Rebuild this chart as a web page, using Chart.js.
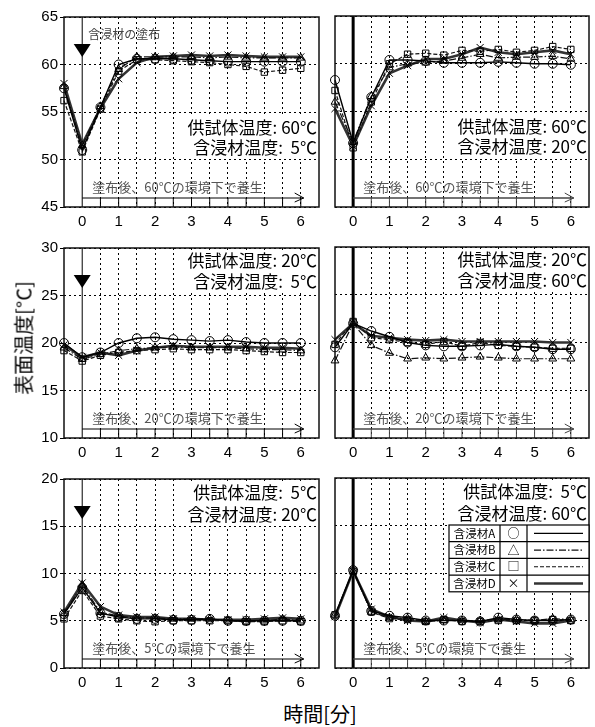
<!DOCTYPE html>
<html>
<head>
<meta charset="utf-8">
<script src="https://cdn.jsdelivr.net/npm/chart.js@4.4.0/dist/chart.umd.min.js"></script>
<style>
body { margin:0; background:#fff; width:595px; height:727px; position:relative; overflow:hidden; }
canvas { position:absolute; }
.ttl { position:absolute; font-family:"Noto Sans CJK JP", sans-serif; font-size:20px; color:#000; white-space:nowrap; }
</style>
</head>
<body>
<canvas id="c1"></canvas><canvas id="c2"></canvas>
<canvas id="c3"></canvas><canvas id="c4"></canvas>
<canvas id="c5"></canvas><canvas id="c6"></canvas>
<div class="ttl" style="left:23px;top:338px;transform:translate(-50%,-50%) rotate(-90deg);">表面温度[°C]</div>
<div class="ttl" style="left:320px;top:713px;transform:translate(-50%,-50%);">時間[分]</div>
<script>
// 時間[分]
const minutes = [-0.5, 0, 0.5, 1, 1.5, 2, 2.5, 3, 3.5, 4, 4.5, 5, 5.5, 6];
const xGrid = [-0.5, 0, 0.5, 1, 1.5, 2, 2.5, 3, 3.5, 4, 4.5, 5, 5.5, 6, 6.5];
const yTicksTop = [45, 50, 55, 60, 65];
const yTicksMid = [10, 15, 20, 25, 30];
const yTicksBot = [0, 5, 10, 15, 20];

// 供試体60℃ / 含浸材5℃
const p1A = [57.5, 51.0, 55.5, 60.0, 60.6, 60.6, 60.6, 60.5, 60.4, 60.3, 60.3, 60.3, 60.3, 60.3];
const p1B = [57.7, 51.5, 55.6, 59.5, 60.8, 60.8, 60.8, 60.8, 60.7, 60.8, 60.7, 60.7, 60.7, 60.7];
const p1C = [56.2, 50.8, 55.3, 59.3, 60.5, 60.5, 60.4, 60.3, 60.2, 60.0, 59.8, 59.2, 59.4, 59.6];
const p1D = [58.0, 51.6, 55.4, 58.5, 60.2, 60.8, 60.9, 61.0, 60.9, 61.0, 60.9, 60.8, 60.8, 60.8];
// 供試体60℃ / 含浸材20℃
const p2A = [58.3, 51.7, 56.5, 60.4, 60.4, 60.3, 60.1, 60.1, 60.1, 60.2, 60.1, 60.0, 60.0, 59.9];
const p2B = [56.0, 51.8, 56.6, 59.6, 60.0, 60.1, 60.3, 60.6, 61.0, 60.6, 60.7, 60.7, 60.8, 60.5];
const p2C = [57.2, 51.2, 56.0, 60.0, 61.0, 61.1, 60.9, 61.4, 61.3, 61.5, 61.2, 61.4, 61.8, 61.5];
const p2D = [55.3, 51.4, 55.6, 59.0, 59.8, 60.5, 60.5, 61.0, 61.7, 61.2, 61.0, 61.2, 61.4, 61.0];
// 供試体20℃ / 含浸材5℃
const p3A = [20.0, 18.5, 19.0, 20.0, 20.5, 20.6, 20.4, 20.3, 20.2, 20.3, 20.1, 20.0, 20.0, 20.0];
const p3B = [19.5, 18.3, 18.8, 19.2, 19.4, 19.5, 19.6, 19.5, 19.5, 19.5, 19.4, 19.3, 19.3, 19.2];
const p3C = [19.2, 18.1, 18.7, 19.0, 19.2, 19.3, 19.4, 19.3, 19.3, 19.3, 19.2, 19.1, 19.0, 19.0];
const p3D = [19.8, 18.5, 19.0, 18.7, 19.2, 19.5, 19.7, 19.6, 19.6, 19.6, 19.6, 19.5, 19.5, 19.4];
// 供試体20℃ / 含浸材60℃
const p4A = [19.5, 22.0, 21.2, 20.6, 20.0, 19.7, 19.6, 19.6, 19.7, 19.8, 19.6, 19.5, 19.3, 19.3];
const p4B = [18.1, 22.0, 19.7, 18.9, 18.3, 18.4, 18.3, 18.4, 18.5, 18.4, 18.3, 18.3, 18.3, 18.3];
const p4C = [19.8, 22.2, 20.5, 20.3, 20.0, 19.8, 20.1, 19.6, 20.0, 19.7, 19.6, 19.5, 19.4, 19.4];
const p4D = [20.3, 22.0, 20.7, 20.5, 20.3, 20.2, 20.3, 20.1, 20.1, 20.1, 20.1, 20.1, 20.0, 20.0];
// 供試体5℃ / 含浸材20℃
const p5A = [5.7, 8.5, 5.8, 5.4, 5.2, 5.2, 5.1, 5.1, 5.2, 5.0, 5.0, 5.0, 5.0, 5.0];
const p5B = [5.8, 8.8, 5.9, 5.5, 5.3, 5.3, 5.2, 5.2, 5.2, 5.0, 4.9, 5.0, 5.2, 5.0];
const p5C = [5.2, 8.2, 5.5, 5.2, 5.0, 4.9, 5.0, 5.0, 5.0, 5.0, 4.9, 4.9, 5.0, 4.9];
const p5D = [5.9, 9.0, 6.5, 5.6, 5.4, 5.4, 5.2, 5.2, 5.1, 5.1, 5.1, 5.2, 5.3, 5.2];
// 供試体5℃ / 含浸材60℃
const p6A = [5.5, 10.3, 6.0, 5.5, 5.3, 5.0, 5.0, 5.0, 4.9, 5.3, 5.1, 5.0, 5.0, 5.1];
const p6B = [5.6, 10.2, 5.9, 5.3, 5.2, 4.9, 5.0, 5.0, 5.0, 5.1, 5.1, 5.0, 5.2, 5.1];
const p6C = [5.6, 10.2, 5.9, 5.2, 5.1, 4.9, 5.1, 4.9, 4.9, 5.0, 5.0, 5.0, 5.1, 5.0];
const p6D = [5.4, 10.2, 6.2, 5.4, 5.0, 4.9, 5.3, 5.0, 4.8, 5.1, 4.9, 4.7, 4.7, 5.0];

const seriesNames = ['含浸材A', '含浸材B', '含浸材C', '含浸材D'];
const seriesMarks = ['○', '△', '□', '×'];
const specimenLabels = ['供試体温度: 60℃', '供試体温度: 60℃', '供試体温度: 20℃', '供試体温度: 20℃', '供試体温度:  5℃', '供試体温度:  5℃'];
const agentLabels = ['含浸材温度:  5℃', '含浸材温度: 20℃', '含浸材温度:  5℃', '含浸材温度: 60℃', '含浸材温度: 20℃', '含浸材温度: 60℃'];
const cureLabels = ['塗布後、60℃の環境下で養生', '塗布後、60℃の環境下で養生', '塗布後、20℃の環境下で養生', '塗布後、20℃の環境下で養生', '塗布後、5℃の環境下で養生', '塗布後、5℃の環境下で養生'];
const applyLabel = '含浸材の塗布';

const markStyles = ['circle', 'triangle', 'rect', 'crossRot'];
const lineDash = [[], [7, 2, 1.5, 2], [4, 2], []];
const lineWidths = [1.4, 1.2, 1.2, 2.6];
const lineColors = ['#000', '#111', '#111', '#333'];

const JP = '"Noto Sans CJK JP", sans-serif';
const NUM = '"Liberation Sans", Arial, sans-serif';

function decoPlugin(i, left) {
    return {
        id: 'deco' + i,
        beforeDatasetsDraw(chart) {
            const {ctx, chartArea: a, scales: {x, y}} = chart;
            ctx.save();
            // x=0 line
            const x0 = x.getPixelForValue(0);
            ctx.strokeStyle = '#000';
            ctx.lineWidth = left ? 1 : 3;
            ctx.beginPath(); ctx.moveTo(x0, a.top); ctx.lineTo(x0, a.bottom); ctx.stroke();
            // condition labels
            const row = Math.floor(i / 2);
            const off1 = row === 0 ? 111 : (row === 1 ? 13 : 14);
            const off2 = row === 0 ? 131 : (row === 1 ? 34 : 36);
            ctx.font = '17px ' + JP;
            const w = Math.max(ctx.measureText(specimenLabels[i]).width, ctx.measureText(agentLabels[i]).width);
            ctx.fillStyle = '#fff';
            ctx.fillRect(a.right - w - 6, a.top + off1 - 11, w + 5, off2 - off1 + 22);
            ctx.fillStyle = '#000';
            ctx.textAlign = 'right'; ctx.textBaseline = 'middle';
            ctx.fillText(specimenLabels[i], a.right - 2, a.top + off1);
            ctx.fillText(agentLabels[i], a.right - 2, a.top + off2);
            // curing arrow
            const ay = a.bottom - 9;
            const xe = x.getPixelForValue(6.08);
            ctx.strokeStyle = left ? '#000' : '#444';
            ctx.lineWidth = left ? 1 : 1.6;
            ctx.beginPath(); ctx.moveTo(x0, ay); ctx.lineTo(xe, ay); ctx.stroke();
            ctx.lineWidth = 1;
            ctx.beginPath(); ctx.moveTo(xe - 9, ay - 5); ctx.lineTo(xe, ay); ctx.lineTo(xe - 9, ay + 4); ctx.stroke();
            for (let k = 0.5; k <= 6; k += 0.5) {
                const px = x.getPixelForValue(k);
                ctx.beginPath(); ctx.moveTo(px, ay); ctx.lineTo(px, a.bottom); ctx.stroke();
            }
            ctx.font = '13px ' + JP;
            ctx.fillStyle = '#555';
            ctx.textAlign = 'left';
            ctx.fillText(cureLabels[i], x0 + 10, a.bottom - 20);
            // application marker
            if (left) {
                ctx.fillStyle = '#000';
                ctx.beginPath();
                ctx.moveTo(x0 - 8.5, a.top + 27); ctx.lineTo(x0 + 8.5, a.top + 27); ctx.lineTo(x0, a.top + 40);
                ctx.closePath(); ctx.fill();
                if (i === 0) {
                    ctx.font = '12px ' + JP;
                    ctx.fillStyle = '#444';
                    ctx.fillText(applyLabel, x0 + 6, a.top + 17);
                }
            }
            ctx.restore();
        },
        afterDatasetsDraw(chart) {
            const {ctx, chartArea: a} = chart;
            ctx.save();
            ctx.strokeStyle = '#111';
            ctx.lineWidth = 1.5;
            ctx.strokeRect(a.left, a.top, a.right - a.left, a.bottom - a.top);
            if (i === 5) {
                // legend table
                const bx = 449 - 325, by = a.top + 47, bw = a.right - bx, rh = 16.7;
                const c1 = 500 - 325, c2 = 527 - 325;
                ctx.fillStyle = '#fff';
                ctx.fillRect(bx, by, bw, rh * 4);
                ctx.strokeStyle = '#000';
                ctx.lineWidth = 1.2;
                ctx.strokeRect(bx, by, bw, rh * 4);
                ctx.beginPath();
                for (let r = 1; r < 4; r++) { ctx.moveTo(bx, by + rh * r); ctx.lineTo(bx + bw, by + rh * r); }
                ctx.moveTo(c1, by); ctx.lineTo(c1, by + rh * 4);
                ctx.moveTo(c2, by); ctx.lineTo(c2, by + rh * 4);
                ctx.stroke();
                ctx.textBaseline = 'middle'; ctx.textAlign = 'center';
                for (let r = 0; r < 4; r++) {
                    const cy = by + rh * r + rh / 2;
                    ctx.fillStyle = '#000';
                    ctx.font = '11.5px ' + JP;
                    ctx.fillText(seriesNames[r], (bx + c1) / 2, cy);
                    ctx.font = '12px ' + JP;
                    ctx.fillText(seriesMarks[r], (c1 + c2) / 2, cy);
                    ctx.strokeStyle = lineColors[r];
                    ctx.lineWidth = lineWidths[r];
                    ctx.setLineDash(lineDash[r]);
                    ctx.beginPath(); ctx.moveTo(c2 + 7, cy); ctx.lineTo(bx + bw - 6, cy); ctx.stroke();
                    ctx.setLineDash([]);
                }
            }
            ctx.restore();
        }
    };
}

function makePanel(i, series, yTicks) {
    const left = i % 2 === 0;
    const row = Math.floor(i / 2);
    const plotTop = [16, 247, 478][row];
    const plotH = [191, 191, 190][row];
    const canvasLeft = left ? 0 : 325;
    const W = left ? 325 : 270;
    const H = 10 + plotH + 28;
    const el = document.getElementById('c' + (i + 1));
    el.width = W; el.height = H;
    el.style.left = canvasLeft + 'px'; el.style.top = (plotTop - 10) + 'px';
    el.style.width = W + 'px'; el.style.height = H + 'px';
    const datasets = series.map((vals, k) => ({
        label: seriesNames[k],
        data: minutes.map((t, j) => ({x: t, y: vals[j]})),
        borderColor: lineColors[k],
        borderWidth: lineWidths[k],
        borderDash: lineDash[k],
        pointStyle: markStyles[k],
        pointRadius: k === 3 ? 5 : 4.5,
        pointBorderWidth: 1,
        pointBorderColor: '#000',
        pointBackgroundColor: 'rgba(255,255,255,0)',
        fill: false,
        tension: 0,
        clip: false
    }));
    new Chart(el, {
        type: 'line',
        data: {datasets},
        options: {
            responsive: false,
            animation: false,
            layout: {padding: {top: 10, right: 6, left: 0, bottom: 0}},
            plugins: {legend: {display: false}, tooltip: {enabled: false}},
            scales: {
                x: {
                    type: 'linear', min: -0.5, max: 6.5,
                    afterBuildTicks: s => { s.ticks = xGrid.map(v => ({value: v})); },
                    afterFit: s => { s.height = 28; },
                    ticks: {
                        padding: 6, autoSkip: false, maxRotation: 0, color: '#000',
                        font: {family: NUM, size: 15},
                        callback: v => (Number.isInteger(v) && v >= 0 && v <= 6) ? String(v) : ''
                    },
                    grid: {
                        drawTicks: false, lineWidth: 1,
                        color: c => (c.tick && (c.tick.value === 0 || c.tick.value === -0.5 || c.tick.value === 6.5)) ? 'rgba(0,0,0,0)' : '#000'
                    },
                    border: {display: false, dash: [2, 3]}
                },
                y: {
                    min: yTicks[0], max: yTicks[yTicks.length - 1],
                    afterBuildTicks: s => { s.ticks = yTicks.map(v => ({value: v})); },
                    afterFit: s => { s.width = left ? 64 : 10; },
                    ticks: {display: left, padding: 2, color: '#000', font: {family: NUM, size: 15}},
                    grid: {drawTicks: left, tickLength: 4, lineWidth: 1, color: '#000', tickBorderDash: []},
                    border: {display: false, dash: [2, 3]}
                }
            }
        },
        plugins: [decoPlugin(i, left)]
    });
}

makePanel(0, [p1A, p1B, p1C, p1D], yTicksTop);
makePanel(1, [p2A, p2B, p2C, p2D], yTicksTop);
makePanel(2, [p3A, p3B, p3C, p3D], yTicksMid);
makePanel(3, [p4A, p4B, p4C, p4D], yTicksMid);
makePanel(4, [p5A, p5B, p5C, p5D], yTicksBot);
makePanel(5, [p6A, p6B, p6C, p6D], yTicksBot);
</script>
</body>
</html>
